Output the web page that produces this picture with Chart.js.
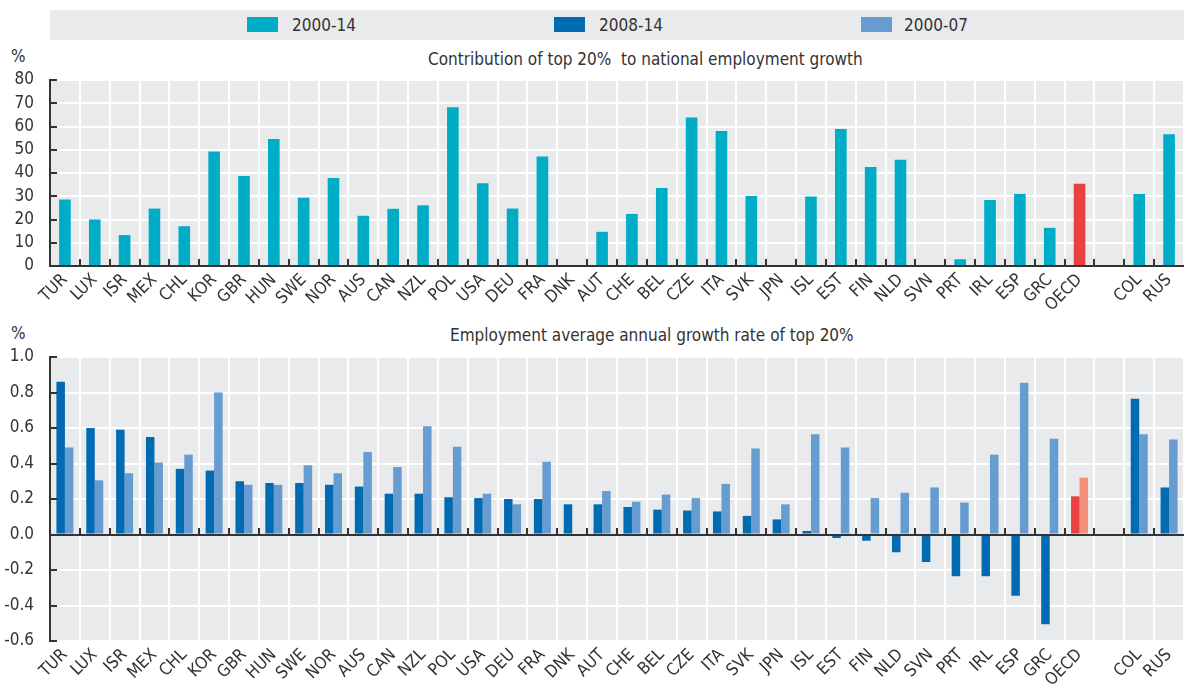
<!DOCTYPE html>
<html>
<head>
<meta charset="utf-8">
<script src="https://cdn.jsdelivr.net/npm/chart.js@4"></script>
<style>
  body { margin: 0; background: #fff; width: 1184px; height: 689px; overflow: hidden; position: relative;
         font-family: 'DejaVu Sans Condensed', 'Liberation Sans', sans-serif; color: #333; }
  .legend { position: absolute; left: 50px; top: 10px; width: 1134px; height: 30px; background: #e9eaec; }
  .legend .item { position: absolute; top: 0; height: 30px; line-height: 30px; font-size: 17px; }
  .legend .sw { position: absolute; top: 7px; width: 31px; height: 15px; }
  .title { position: absolute; font-size: 17px; white-space: pre; }
  .unit { position: absolute; left: 11px; font-size: 17px; }
  .box { position: absolute; left: 0; width: 1184px; }
</style>
</head>
<body>
<div class="legend">
  <div class="sw" style="left:197px;background:#00adc6"></div><div class="item" style="left:242px">2000-14</div>
  <div class="sw" style="left:504px;background:#006bb3"></div><div class="item" style="left:549px">2008-14</div>
  <div class="sw" style="left:811px;background:#669cd0"></div><div class="item" style="left:854px">2000-07</div>
</div>
<div class="unit" style="top:46px">%</div>
<div class="title" style="left:428px;top:49px">Contribution of top 20%  to national employment growth</div>
<div class="box" style="top:70px;height:240px"><canvas id="topChart" width="1184" height="240"></canvas></div>
<div class="unit" style="top:323px">%</div>
<div class="title" style="left:450px;top:325px">Employment average annual growth rate of top 20%</div>
<div class="box" style="top:347px;height:342px"><canvas id="bottomChart" width="1184" height="342"></canvas></div>
<script>
const categories = ['TUR', 'LUX', 'ISR', 'MEX', 'CHL', 'KOR', 'GBR', 'HUN', 'SWE', 'NOR', 'AUS', 'CAN', 'NZL',
  'POL', 'USA', 'DEU', 'FRA', 'DNK', 'AUT', 'CHE', 'BEL', 'CZE', 'ITA', 'SVK', 'JPN', 'ISL', 'EST', 'FIN',
  'NLD', 'SVN', 'PRT', 'IRL', 'ESP', 'GRC', 'OECD', '', 'COL', 'RUS'];

// contribution of top 20% to employment growth, 2000-14 (%)
const contrib0014 = [28.6, 20.0, 13.3, 24.7, 17.1, 49.3, 38.7, 54.6, 29.4, 37.9, 21.6, 24.6, 26.1,
  68.3, 35.6, 24.7, 47.1, null, 14.7, 22.4, 33.6, 63.9, 58.1, 30.1, null, 29.9, 58.9, 42.6,
  45.7, null, 2.9, 28.4, 31.0, 16.4, 35.4, null, 31.0, 56.7];

// average annual employment growth of top 20% (%)
const growth0814 = [0.86, 0.60, 0.59, 0.55, 0.37, 0.36, 0.30, 0.29, 0.29, 0.28, 0.27, 0.23, 0.23,
  0.21, 0.205, 0.20, 0.20, 0.17, 0.17, 0.155, 0.14, 0.135, 0.13, 0.105, 0.085, 0.02, -0.02, -0.035,
  -0.10, -0.155, -0.235, -0.235, -0.345, -0.505, 0.215, null, 0.765, 0.265];
const growth0007 = [0.49, 0.305, 0.345, 0.405, 0.45, 0.80, 0.28, 0.28, 0.39, 0.345, 0.465, 0.38, 0.61,
  0.495, 0.23, 0.17, 0.41, null, 0.245, 0.185, 0.225, 0.205, 0.285, 0.485, 0.17, 0.565, 0.49, 0.205,
  0.235, 0.265, 0.18, 0.45, 0.855, 0.54, 0.32, null, 0.565, 0.535];

const topTicks = [0, 10, 20, 30, 40, 50, 60, 70, 80];
const bottomTicks = [-0.6, -0.4, -0.2, 0, 0.2, 0.4, 0.6, 0.8, 1.0];

const TEAL = '#00adc6', DARK = '#006bb3', LIGHT = '#669cd0', RED = '#e84142', SALMON = '#f3907a';
const FONT = "'DejaVu Sans Condensed', 'Liberation Sans', sans-serif";
const INK = '#333333';

const colorsFor = (base, oecd) => categories.map(c => c === 'OECD' ? oecd : base);

// grey panel, dark zero line and the short inner tick marks
const panel = {
  id: 'panel',
  beforeDraw(chart) {
    const { ctx, chartArea: a } = chart;
    ctx.save();
    ctx.fillStyle = '#e9eaec';
    ctx.fillRect(a.left, a.top, a.right - a.left, a.bottom - a.top);
    ctx.restore();
  },
  afterDatasetsDraw(chart) {
    const { ctx, chartArea: a, scales: { y } } = chart;
    const y0 = Math.round(y.getPixelForValue(0));
    ctx.save();
    ctx.strokeStyle = INK;
    ctx.lineWidth = 2;
    ctx.beginPath();
    ctx.moveTo(a.left, y0);
    ctx.lineTo(a.right, y0);
    y.ticks.forEach(t => {
      const py = Math.round(y.getPixelForValue(t.value));
      ctx.moveTo(a.left, py);
      ctx.lineTo(a.left + 7, py);
    });
    const step = (a.right - a.left) / categories.length;
    for (let i = 1; i < categories.length; i++) {
      const px = Math.round(a.left + i * step);
      ctx.moveTo(px, y0);
      ctx.lineTo(px, y0 - 7);
    }
    ctx.stroke();
    ctx.restore();
  }
};

function scalesFor(ticks, xHeight, fmt) {
  return {
    x: {
      offset: true,
      grid: { offset: true, color: '#ffffff', lineWidth: 2, drawTicks: false },
      border: { display: false },
      ticks: { color: INK, font: { family: FONT, size: 17 }, autoSkip: false, minRotation: 45, maxRotation: 45, padding: 4 },
      afterFit(s) { s.height = xHeight; s.paddingLeft = 0; s.paddingRight = 0; }
    },
    y: {
      min: ticks[0],
      max: ticks[ticks.length - 1],
      afterBuildTicks(s) { s.ticks = ticks.map(v => ({ value: v })); },
      grid: { color: '#ffffff', lineWidth: 2, drawTicks: false },
      border: { display: true, color: INK, width: 2 },
      ticks: { color: INK, font: { family: FONT, size: 17 }, padding: 16, autoSkip: false, callback: fmt },
      afterFit(s) { s.width = 50; s.paddingTop = 0; s.paddingBottom = 0; }
    }
  };
}

new Chart(document.getElementById('topChart'), {
  type: 'bar',
  data: {
    labels: categories,
    datasets: [{
      label: '2000-14',
      data: contrib0014,
      backgroundColor: colorsFor(TEAL, RED),
      categoryPercentage: 0.39,
      barPercentage: 1.0
    }]
  },
  options: {
    responsive: false,
    animation: false,
    layout: { padding: { top: 10, right: 0, left: 0, bottom: 0 } },
    plugins: { legend: { display: false }, tooltip: { enabled: false } },
    scales: scalesFor(topTicks, 44, v => v)
  },
  plugins: [panel]
});

new Chart(document.getElementById('bottomChart'), {
  type: 'bar',
  data: {
    labels: categories,
    datasets: [
      { label: '2008-14', data: growth0814, backgroundColor: colorsFor(DARK, RED), categoryPercentage: 0.57, barPercentage: 1.0 },
      { label: '2000-07', data: growth0007, backgroundColor: colorsFor(LIGHT, SALMON), categoryPercentage: 0.57, barPercentage: 1.0 }
    ]
  },
  options: {
    responsive: false,
    animation: false,
    layout: { padding: { top: 10, right: 0, left: 0, bottom: 0 } },
    plugins: { legend: { display: false }, tooltip: { enabled: false } },
    scales: scalesFor(bottomTicks, 48, v => Number(v).toFixed(1))
  },
  plugins: [panel]
});
</script>
</body>
</html>
